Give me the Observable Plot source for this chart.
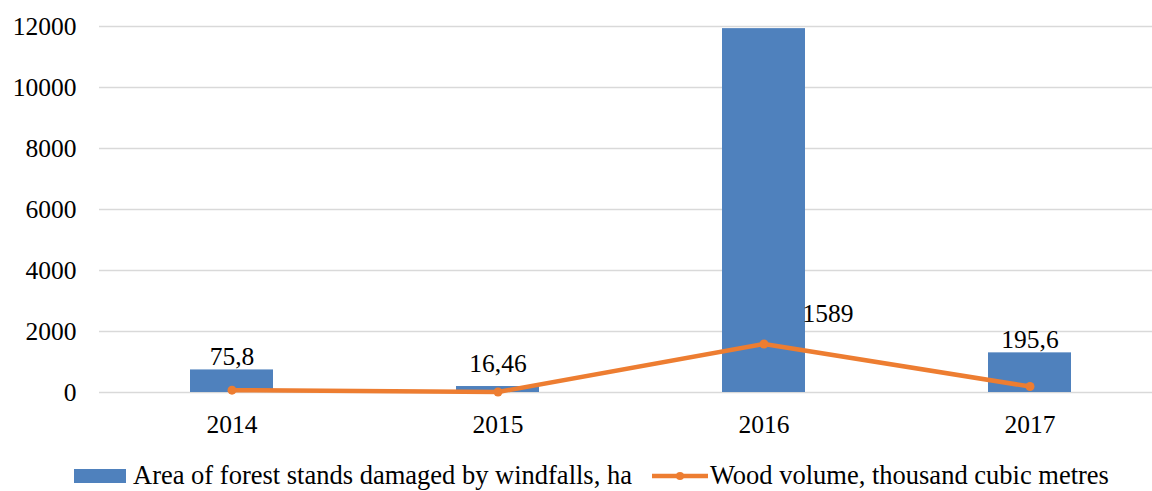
<!DOCTYPE html>
<html>
<head>
<meta charset="utf-8">
<script src="https://cdn.jsdelivr.net/npm/d3@7"></script>
<script src="https://cdn.jsdelivr.net/npm/@observablehq/plot@0.6"></script>
<style>
  html, body { margin: 0; padding: 0; background: #fff; overflow: hidden; font-family: 'Liberation Serif', serif; }
  #chart svg { display: block; }
  .legend { display: flex; align-items: center; box-sizing: border-box; height: 36px; padding-top: 4px; margin-left: 74px;
            font-family: 'Liberation Serif', serif; font-size: 26.5px; line-height: 1; color: #000; white-space: nowrap; }
  .sw-bar { width: 52px; height: 14px; background: #4f81bd; margin-right: 7px; flex: none; position: relative; top: 1px; }
  .sw-line { margin-left: 20px; margin-right: 2px; flex: none; position: relative; top: 1px; }
</style>
</head>
<body>
<div id="chart"></div>
<div class="legend">
  <div class="sw-bar"></div><span>Area of forest stands damaged by windfalls, ha</span>
  <svg class="sw-line" width="56" height="14"><line x1="0" y1="7" x2="56" y2="7" stroke="#ed7d31" stroke-width="4.5"/><circle cx="28" cy="7" r="4" fill="#ed7d31"/></svg><span>Wood volume, thousand cubic metres</span>
</div>
<script>
const years = ["2014", "2015", "2016", "2017"];
const area = [740, 196, 11930, 1300];
const volume = [75.8, 16.46, 1589, 195.6];
const volumeLabels = ["75,8", "16,46", "1589", "195,6"];
const yTicks = [0, 2000, 4000, 6000, 8000, 10000, 12000];

const data = years.map((year, i) => ({year, area: area[i], volume: volume[i], label: volumeLabels[i]}));
const labelText = (filter, opts) => Plot.text(data.filter(filter), {x: "year", text: "label", lineAnchor: "bottom", fontSize: 25.5, fill: "#000", ...opts});

const chart = Plot.plot({
  width: 1152,
  height: 455,
  marginLeft: 99,
  marginRight: 0,
  marginTop: 26,
  marginBottom: 63,
  style: {fontFamily: "Liberation Serif, serif", fontSize: "25.5px", color: "#000", background: "#fff"},
  x: {domain: years, range: [98.5, 1162.5], paddingInner: 0.688, paddingOuter: 0.344, label: null, tickSize: 0, tickPadding: 22},
  y: {domain: [0, 12000], ticks: yTicks, label: null, tickSize: 0, tickPadding: 23, tickFormat: d => String(d)},
  marks: [
    Plot.ruleY(yTicks, {stroke: "#d9d9d9", strokeWidth: 1.5}),
    Plot.barY(data, {x: "year", y: "area", fill: "#4f81bd"}),
    Plot.line(data, {x: "year", y: "volume", stroke: "#ed7d31", strokeWidth: 4.5}),
    Plot.dot(data, {x: "year", y: "volume", r: 4.5, fill: "#ed7d31"}),
    labelText(d => d.year === "2014" || d.year === "2017", {y: "area", dy: -5}),
    labelText(d => d.year === "2015", {y: "area", dy: -15}),
    labelText(d => d.year === "2016", {y: "volume", dx: 64, dy: -22})
  ]
});
document.getElementById("chart").append(chart);
</script>
</body>
</html>
